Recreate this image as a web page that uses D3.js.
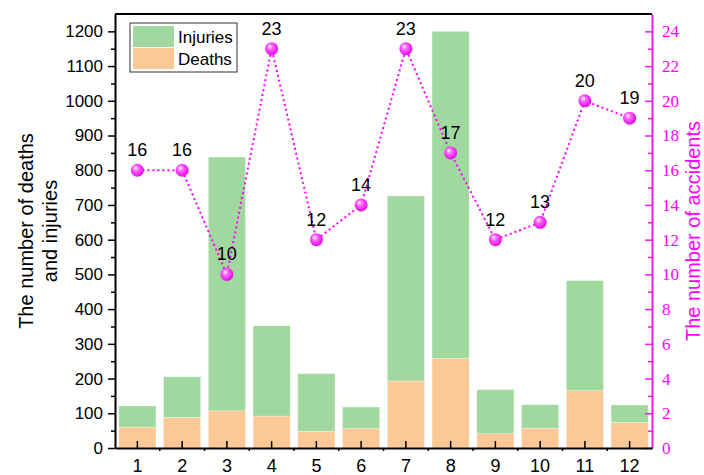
<!DOCTYPE html>
<html>
<head>
<meta charset="utf-8">
<script src="https://cdn.jsdelivr.net/npm/d3@7"></script>
<style>
  body { margin: 0; background: #fff; }
  text { font-family: "Liberation Sans", Arial, sans-serif; }
</style>
</head>
<body>
<div id="chart"></div>
<script>
const months = ["1", "2", "3", "4", "5", "6", "7", "8", "9", "10", "11", "12"];
const deaths = [60, 88, 107, 92, 48, 56, 193, 258, 41, 57, 165, 74];
const injuries = [61, 117, 731, 260, 166, 62, 533, 942, 127, 68, 317, 50];
const accidents = [16, 16, 10, 23, 12, 14, 23, 17, 12, 13, 20, 19];
const leftTicks = [0, 100, 200, 300, 400, 500, 600, 700, 800, 900, 1000, 1100, 1200];
const rightTicks = [0, 2, 4, 6, 8, 10, 12, 14, 16, 18, 20, 22, 24];

const width = 704,
  height = 475,
  margin = { top: 14, bottom: 27, left: 115, right: 52 },
  green = "#a0d8a0",
  orange = "#fcc896",
  magenta = "#ff00ff",
  axisMagenta = "#e61ee6";

const rows = months.map((m, i) => ({ month: m, deaths: deaths[i], injuries: injuries[i] }));
const stacked = d3.stack().keys(["deaths", "injuries"])(rows);

const svg = d3.select("#chart").append("svg")
  .attr("width", width)
  .attr("height", height);

const defs = svg.append("defs");
const grad = defs.append("radialGradient")
  .attr("id", "ball")
  .attr("cx", "45%").attr("cy", "45%").attr("r", "60%")
  .attr("fx", "35%").attr("fy", "30%");
grad.append("stop").attr("offset", "0%").attr("stop-color", "#fff");
grad.append("stop").attr("offset", "35%").attr("stop-color", "#ff66ff");
grad.append("stop").attr("offset", "100%").attr("stop-color", "#e000e0");

const xScale = d3.scaleBand()
  .domain(months)
  .range([margin.left, width - margin.right])
  .paddingInner(0.17)
  .paddingOuter(0.085);

const xCenter = d3.scaleBand()
  .domain(months)
  .range([margin.left, width - margin.right]);

const yScale = d3.scaleLinear()
  .domain([0, 1250])
  .range([height - margin.bottom, margin.top]);

const y2Scale = d3.scaleLinear()
  .domain([0, 25])
  .range([height - margin.bottom, margin.top]);

// bars
svg.append("g")
  .selectAll("g")
  .data(stacked)
  .join("g")
  .attr("fill", d => d.key === "deaths" ? orange : green)
  .selectAll("rect")
  .data(d => d)
  .join("rect")
  .attr("x", d => xScale(d.data.month))
  .attr("y", d => yScale(d[1]))
  .attr("width", xScale.bandwidth())
  .attr("height", d => yScale(d[0]) - yScale(d[1]))
  .attr("stroke", "#fff")
  .attr("stroke-opacity", 0.5)
  .attr("stroke-width", 0.6);

// left axis
const leftMinor = d3.range(50, 1250, 100);
svg.append("g")
  .attr("transform", `translate(${margin.left},0)`)
  .call(d3.axisLeft(yScale).tickValues(leftMinor).tickSize(4).tickFormat(""))
  .call(g => g.select(".domain").remove())
  .call(g => g.selectAll("line").attr("stroke-width", 1.5));

svg.append("g")
  .attr("class", "axis y-axis")
  .attr("transform", `translate(${margin.left},0)`)
  .call(d3.axisLeft(yScale).tickValues(leftTicks).tickFormat(d3.format("d"))
    .tickSize(7).tickPadding(5).tickSizeOuter(0))
  .call(g => g.select(".domain").attr("stroke-width", 2))
  .call(g => g.selectAll("line").attr("stroke-width", 1.5))
  .call(g => g.selectAll("text").attr("font-size", 17).attr("fill", "#000"));

// right axis
svg.append("g")
  .attr("transform", `translate(${width - margin.right},0)`)
  .call(d3.axisLeft(y2Scale).tickValues(d3.range(1, 25, 2)).tickSize(4).tickFormat(""))
  .call(g => g.select(".domain").remove())
  .call(g => g.selectAll("line").attr("stroke", axisMagenta).attr("stroke-width", 1.5).attr("x2", -4));

svg.append("g")
  .attr("transform", `translate(${width - margin.right},0)`)
  .call(d3.axisRight(y2Scale).tickValues(rightTicks).tickSize(-7).tickPadding(10).tickSizeOuter(0))
  .call(g => g.select(".domain").attr("stroke", axisMagenta).attr("stroke-width", 2))
  .call(g => g.selectAll("line").attr("stroke", axisMagenta).attr("stroke-width", 1.5))
  .call(g => g.selectAll("text")
    .attr("font-size", 17)
    .attr("fill", magenta)
    .style("font-family", "'Liberation Serif', 'Times New Roman', serif"));

// top frame
svg.append("line")
  .attr("x1", margin.left)
  .attr("x2", width - margin.right)
  .attr("y1", margin.top)
  .attr("y2", margin.top)
  .attr("stroke", "#000")
  .attr("stroke-width", 2);

// bottom axis
const xg = svg.append("g")
  .attr("transform", `translate(0,${height - margin.bottom})`);
xg.selectAll(".minor")
  .data(months.slice(1))
  .join("line")
  .attr("x1", d => xCenter(d))
  .attr("x2", d => xCenter(d))
  .attr("y1", 0)
  .attr("y2", 3)
  .attr("stroke", "#000")
  .attr("stroke-width", 1.5);
xg.call(d3.axisBottom(xCenter).tickSize(-7).tickPadding(11).tickSizeOuter(0))
  .call(g => g.select(".domain").attr("stroke-width", 2))
  .call(g => g.selectAll(".tick line").attr("stroke-width", 1.5))
  .call(g => g.selectAll("text").attr("font-size", 18).attr("fill", "#000"));

// accidents line
const cx = d => xCenter(d) + xCenter.bandwidth() / 2;
const line = d3.line()
  .x((d, i) => cx(months[i]))
  .y(d => y2Scale(d));

svg.append("path")
  .datum(accidents)
  .attr("d", line)
  .attr("fill", "none")
  .attr("stroke", magenta)
  .attr("stroke-width", 2)
  .attr("stroke-dasharray", "2,3");

svg.append("g")
  .selectAll("circle")
  .data(accidents)
  .join("circle")
  .attr("cx", (d, i) => cx(months[i]))
  .attr("cy", d => y2Scale(d))
  .attr("r", 6.5)
  .attr("fill", "url(#ball)");

svg.append("g")
  .selectAll("text")
  .data(accidents)
  .join("text")
  .attr("x", (d, i) => cx(months[i]))
  .attr("y", d => y2Scale(d) - 14)
  .attr("text-anchor", "middle")
  .attr("font-size", 18)
  .attr("fill", "#000")
  .text(d => d);

// legend
const legend = svg.append("g").attr("transform", "translate(130,23)");
legend.append("rect")
  .attr("width", 107).attr("height", 49)
  .attr("fill", "#fff").attr("stroke", "#333").attr("stroke-width", 1);
[["Injuries", green], ["Deaths", orange]].forEach(([label, color], i) => {
  legend.append("rect")
    .attr("x", 3).attr("y", 3 + i * 22)
    .attr("width", 41).attr("height", 21)
    .attr("fill", color);
  legend.append("text")
    .attr("x", 48).attr("y", 20 + i * 22)
    .attr("font-size", 17)
    .attr("fill", "#000")
    .text(label);
});

// axis titles
const midY = (margin.top + height - margin.bottom) / 2;
svg.append("text")
  .attr("transform", `translate(33,${midY}) rotate(-90)`)
  .attr("text-anchor", "middle")
  .attr("font-size", 20)
  .attr("fill", "#000")
  .text("The number of deaths");
svg.append("text")
  .attr("transform", `translate(57,${midY}) rotate(-90)`)
  .attr("text-anchor", "middle")
  .attr("font-size", 20)
  .attr("fill", "#000")
  .text("and injuries");
svg.append("text")
  .attr("transform", `translate(700,${midY}) rotate(-90)`)
  .attr("text-anchor", "middle")
  .attr("font-size", 20)
  .attr("fill", magenta)
  .text("The number of accidents");
</script>
</body>
</html>
